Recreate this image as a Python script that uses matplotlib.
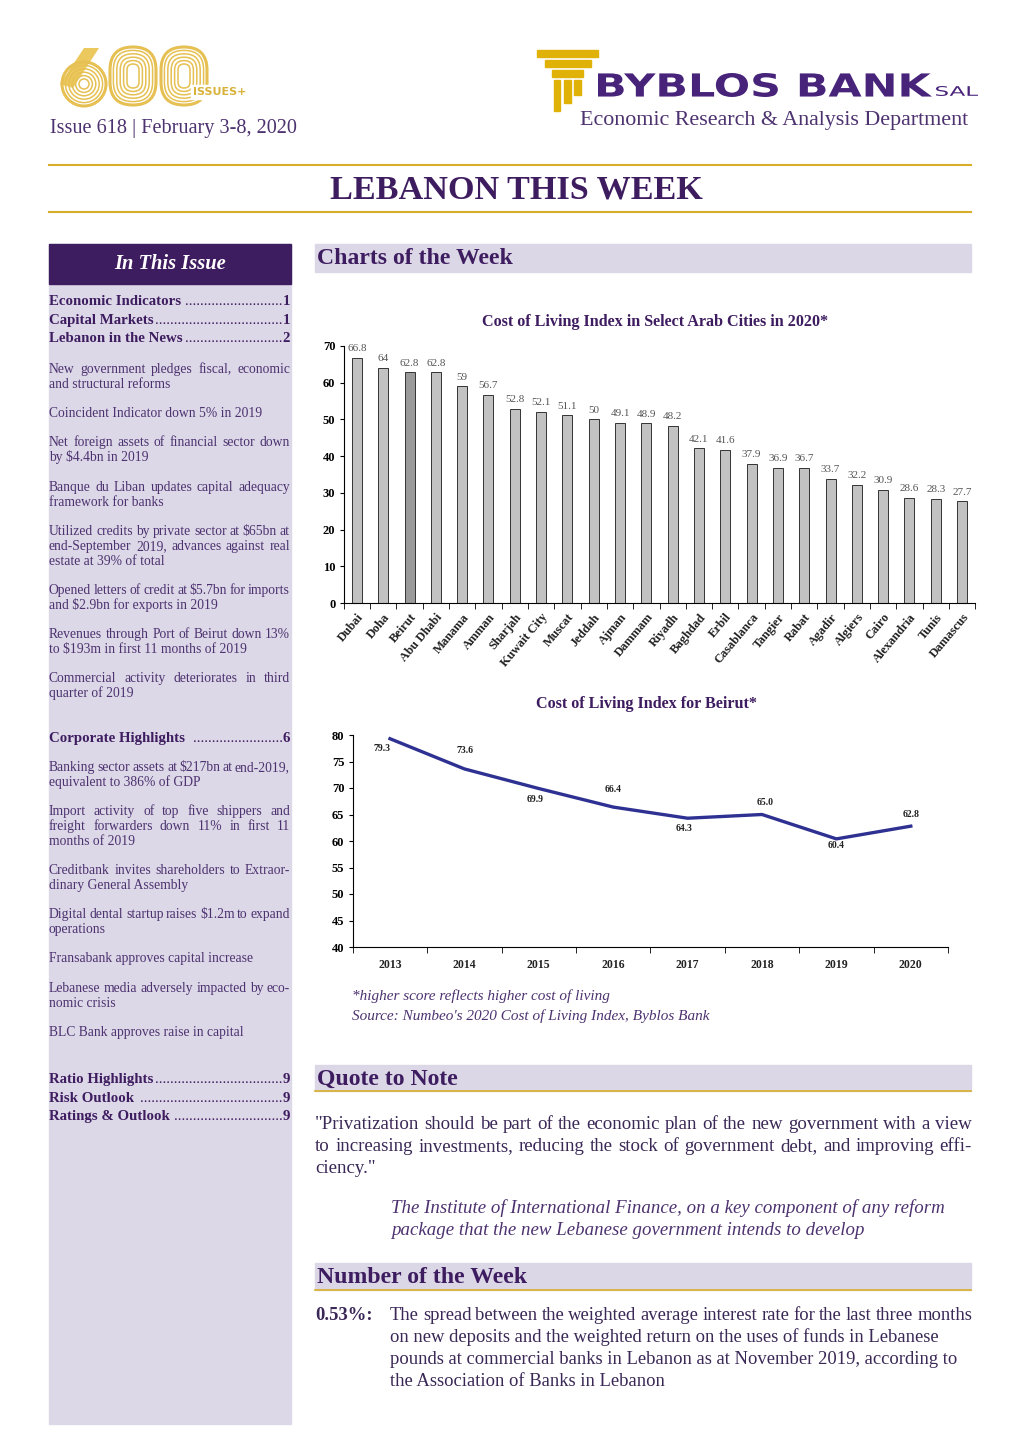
import matplotlib
matplotlib.use('Agg')
import matplotlib.pyplot as plt
from matplotlib.patches import Rectangle, PathPatch, FancyBboxPatch, Circle, Polygon
from matplotlib.textpath import TextPath
from matplotlib.font_manager import FontProperties
from matplotlib.transforms import Affine2D
import numpy as np

plt.rcParams['font.family'] = ['Liberation Serif', 'DejaVu Serif']

# ---------------- data ----------------
cities = ['Dubai', 'Doha', 'Beirut', 'Abu Dhabi', 'Manama', 'Amman', 'Sharjah',
          'Kuwait City', 'Muscat', 'Jeddah', 'Ajman', 'Dammam', 'Riyadh', 'Baghdad',
          'Erbil', 'Casablanca', 'Tangier', 'Rabat', 'Agadir', 'Algiers', 'Cairo',
          'Alexandria', 'Tunis', 'Damascus']
city_values = [66.8, 64, 62.8, 62.8, 59, 56.7, 52.8, 52.1, 51.1, 50, 49.1, 48.9,
               48.2, 42.1, 41.6, 37.9, 36.9, 36.7, 33.7, 32.2, 30.9, 28.6, 28.3, 27.7]
years = ['2013', '2014', '2015', '2016', '2017', '2018', '2019', '2020']
beirut_index = [79.3, 73.6, 69.9, 66.4, 64.3, 65.0, 60.4, 62.8]
beirut_labels = ['79.3', '73.6', '69.9', '66.4', '64.3', '65.0', '60.4', '62.8']

W, H = 1020, 1442
PURPLE = '#3e1c60'
TXT = '#4d3270'
GOLD = '#d8ad2a'
LAV = '#dcd8e7'
SECBG = '#dbd7e6'
RING = '#e6c052'

fig = plt.figure(figsize=(W / 100, H / 100), dpi=100)
bg = fig.add_axes([0, 0, 1, 1])
bg.set_xlim(0, W)
bg.set_ylim(H, 0)
bg.axis('off')
renderer = fig.canvas.get_renderer()


def fp(size, weight='normal', style='normal', family='Liberation Serif'):
    return FontProperties(family=family, size=size, weight=weight, style=style)


def tw(s, prop):
    w, h, d = renderer.get_text_width_height_descent(s, prop, ismath=False)
    return w


def line(x0, x1, y, s, prop, color, justify=False):
    yb = y + 0.33 * prop.get_size_in_points() * 100 / 72
    if not justify:
        bg.text(x0, yb, s, fontproperties=prop, color=color, va='baseline', ha='left')
        return
    words = s.split(' ')
    widths = [tw(w, prop) for w in words]
    gap = (x1 - x0 - sum(widths)) / max(len(words) - 1, 1)
    x = x0
    for w, wd in zip(words, widths):
        bg.text(x, yb, w, fontproperties=prop, color=color, va='baseline', ha='left')
        x += wd + gap


def fit_text(s, x0, y0, x1, y1, prop, color):
    tp = TextPath((0, 0), s, size=100, prop=prop)
    bb = tp.get_extents()
    tr = (Affine2D().translate(-bb.x0, -bb.y0)
          .scale((x1 - x0) / bb.width, -(y1 - y0) / bb.height)
          .translate(x0, y1))
    path = tr.transform_path(tp)
    bg.add_patch(PathPatch(path, facecolor=color, edgecolor='none', zorder=3))


# ---------------- header: 600 logo ----------------
bg.add_patch(Polygon([(60, 84), (84, 48), (99, 48), (73, 88)], closed=True,
                     facecolor='#ecc95e', edgecolor='none', zorder=2))
for k in range(6):
    r = 22 - k * 3.4
    bg.add_patch(Circle((84, 84), r, facecolor='white' if k == 5 else 'none',
                        edgecolor=RING, lw=2.2 if k == 0 else 1.1, zorder=3))
for cx in (133, 184):
    for k in range(6):
        inset = k * 3.4
        w = 46 - 2 * inset
        h = 58 - 2 * inset
        bg.add_patch(FancyBboxPatch((cx - w / 2, 76 - h / 2), w, h,
                                    boxstyle=f'round,pad=0,rounding_size={w / 2 - 0.1}',
                                    facecolor='none', edgecolor=RING,
                                    lw=2.2 if k == 0 else 1.1, zorder=3))
bg.add_patch(Rectangle((191, 85), 70, 14, color='white', zorder=4))
bg.text(193, 92, 'ISSUES+', fontproperties=fp(8, 'bold', family='DejaVu Sans'),
        color='#d9b23a', va='center', ha='left', zorder=5)
bg.text(50, 128, 'Issue 618 | February 3-8, 2020', fontproperties=fp(14.6),
        color=TXT, va='center', ha='left')

# ---------------- header: Byblos logo ----------------
LOGO_GOLD = '#e0b208'
bg.add_patch(Rectangle((537, 50), 61, 7, color=LOGO_GOLD))
bg.add_patch(Rectangle((545, 60), 46, 7, color=LOGO_GOLD))
bg.add_patch(Rectangle((552, 70), 31, 7, color=LOGO_GOLD))
bg.add_patch(Rectangle((554, 80), 6, 31, color=LOGO_GOLD))
bg.add_patch(Rectangle((564, 80), 7, 23, color=LOGO_GOLD))
bg.add_patch(Rectangle((574, 80), 7, 15, color=LOGO_GOLD))
fit_text('BYBLOS BANK', 598, 73, 932, 97, fp(10, 'bold', family='DejaVu Sans'), '#48237a')
fit_text('SAL', 936, 86, 978, 96, fp(10, family='DejaVu Sans'), '#48237a')
bg.text(580, 120, 'Economic Research & Analysis Department', fontproperties=fp(15.8),
        color=TXT, va='center', ha='left')

bg.plot([49, 971], [165, 165], color=GOLD, lw=1.5)
bg.plot([49, 971], [212, 212], color=GOLD, lw=1.5)
bg.text(516, 190, 'LEBANON THIS WEEK', fontproperties=fp(24.6, 'bold'), color=PURPLE,
        va='center', ha='center')

# ---------------- sidebar ----------------
bg.add_patch(Rectangle((49, 244), 242, 1180, color=LAV, zorder=0))
bg.add_patch(Rectangle((49, 244), 242, 40, color=PURPLE, zorder=1))
bg.text(170, 264, 'In This Issue', fontproperties=fp(14.8, 'bold', 'italic'), color='white',
        va='center', ha='center')

SB_X0, SB_X1 = 49, 290


def leader(y, title, page):
    pb = fp(10.7, 'bold')
    pr = fp(10.7)
    yb = y + 0.33 * 10.7 * 100 / 72
    bg.text(SB_X0, yb, title, fontproperties=pb, color=PURPLE, va='baseline', ha='left')
    bg.text(SB_X1, yb, page, fontproperties=pb, color=PURPLE, va='baseline', ha='right')
    wt = tw(title, pb)
    wn = tw(page, pb)
    wd = tw('.' * 20, pr) / 20
    n = int((SB_X1 - wn - SB_X0 - wt - 1) / wd)
    bg.text(SB_X1 - wn, yb, '.' * n, fontproperties=pr, color=PURPLE, va='baseline', ha='right')


leader(300, 'Economic Indicators', '1')
leader(319, 'Capital Markets', '1')
leader(337, 'Lebanon in the News', '2')
leader(737, 'Corporate Highlights ', '6')
leader(1078, 'Ratio Highlights', '9')
leader(1097, 'Risk Outlook ', '9')
leader(1115, 'Ratings & Outlook', '9')

side_paras = [
    (369, ['New government pledges fiscal, economic', 'and structural reforms']),
    (413, ['Coincident Indicator down 5% in 2019']),
    (442, ['Net foreign assets of financial sector down', 'by $4.4bn in 2019']),
    (487, ['Banque du Liban updates capital adequacy', 'framework for banks']),
    (531, ['Utilized credits by private sector at $65bn at',
           'end-September 2019, advances against real', 'estate at 39% of total']),
    (590, ['Opened letters of credit at $5.7bn for imports', 'and $2.9bn for exports in 2019']),
    (634, ['Revenues through Port of Beirut down 13%', 'to $193m in first 11 months of 2019']),
    (678, ['Commercial activity deteriorates in third', 'quarter of 2019']),
    (767, ['Banking sector assets at $217bn at end-2019,', 'equivalent to 386% of GDP']),
    (811, ['Import activity of top five shippers and',
           'freight forwarders down 11% in first 11', 'months of 2019']),
    (870, ['Creditbank invites shareholders to Extraor-', 'dinary General Assembly']),
    (914, ['Digital dental startup raises $1.2m to expand', 'operations']),
    (958, ['Fransabank approves capital increase']),
    (988, ['Lebanese media adversely impacted by eco-', 'nomic crisis']),
    (1032, ['BLC Bank approves raise in capital']),
]
sp = fp(9.8)
for y0, lines in side_paras:
    for k, s in enumerate(lines):
        line(SB_X0, SB_X1, y0 + k * 14.6, s, sp, TXT, justify=(k < len(lines) - 1))

# ---------------- section headers ----------------


def section(y0, y1, title, underline=True):
    bg.add_patch(Rectangle((315, y0), 656, y1 - y0, color=SECBG, zorder=0))
    if underline:
        bg.plot([315, 971], [y1, y1], color=GOLD, lw=1.2)
    bg.text(317, (y0 + y1) / 2 + 1, title, fontproperties=fp(17.1, 'bold'), color=PURPLE,
            va='center', ha='left')


section(244, 272, 'Charts of the Week', underline=False)
section(1065, 1091, 'Quote to Note')
section(1263, 1290, 'Number of the Week')

# ---------------- bar chart ----------------
bg.text(655, 322, 'Cost of Living Index in Select Arab Cities in 2020*',
        fontproperties=fp(11.6, 'bold'), color=PURPLE, va='center', ha='center')
ax1 = fig.add_axes([343.8 / W, 1 - 603 / H, (975.2 - 343.8) / W, (603 - 346) / H])
ax1.set_facecolor('none')
xpos = np.arange(len(cities))
bar_colors = ['#9a9a9a' if c == 'Beirut' else '#c2c2c2' for c in cities]
ax1.bar(xpos, city_values, width=0.38, color=bar_colors, edgecolor='#333333', linewidth=0.7)
for x, v in zip(xpos, city_values):
    ax1.text(x, v + 1.3, f'{v:g}', ha='center', va='bottom', fontsize=8, color='#555555')
ax1.set_xlim(-0.5, len(cities) - 0.5)
ax1.set_ylim(0, 70)
ax1.set_yticks(np.arange(0, 71, 10))
ax1.set_xticks(xpos)
ax1.set_xticklabels(cities, rotation=50, ha='right', va='top', rotation_mode='anchor',
                    fontsize=9, fontweight='bold', color='#222222')
ax1.set_xticks(np.arange(-0.5, len(cities), 1), minor=True)
ax1.tick_params(axis='x', which='major', length=0, pad=6)
ax1.tick_params(axis='x', which='minor', length=4, direction='out')
ax1.tick_params(axis='y', length=3, direction='out', labelsize=9, pad=3)
for t in ax1.get_yticklabels():
    t.set_fontweight('bold')
ax1.spines['top'].set_visible(False)
ax1.spines['right'].set_visible(False)

# ---------------- line chart ----------------
bg.text(647, 704, 'Cost of Living Index for Beirut*', fontproperties=fp(11.6, 'bold'),
        color=PURPLE, va='center', ha='center')
ax2 = fig.add_axes([352.8 / W, 1 - 947 / H, (948 - 352.8) / W, (947 - 735) / H])
ax2.set_facecolor('none')
ypos = np.arange(len(years))
ax2.plot(ypos, beirut_index, color='#2e3192', lw=2.4, solid_joinstyle='round')
label_off = [(-8, -10), (1, 18), (-4, -11), (0, 18), (-4, -10), (3, 12), (0, -7), (0, 12)]
for x, v, s, (dx, dy) in zip(ypos, beirut_index, beirut_labels, label_off):
    ax2.annotate(s, (x, v), xytext=(dx, dy), textcoords='offset pixels', ha='center',
                 va='center', fontsize=7, fontweight='bold', color='#222222')
ax2.set_xlim(-0.5, len(years) - 0.5)
ax2.set_ylim(40, 80)
ax2.set_yticks(np.arange(40, 81, 5))
ax2.set_xticks(ypos)
ax2.set_xticklabels(years, fontsize=8.5, fontweight='bold', color='#222222')
ax2.set_xticks(np.arange(-0.5, len(years), 1), minor=True)
ax2.tick_params(axis='x', which='major', length=0, pad=9)
ax2.tick_params(axis='x', which='minor', length=4, direction='out')
ax2.tick_params(axis='y', length=3, direction='out', labelsize=9, pad=3)
for t in ax2.get_yticklabels():
    t.set_fontweight('bold')
ax2.spines['top'].set_visible(False)
ax2.spines['right'].set_visible(False)

bg.text(352, 996, '*higher score reflects higher cost of living', fontproperties=fp(11, style='italic'),
        color=TXT, va='center', ha='left')
bg.text(352, 1016, "Source: Numbeo's 2020 Cost of Living Index, Byblos Bank",
        fontproperties=fp(11, style='italic'), color=TXT, va='center', ha='left')

# ---------------- quote ----------------
QCOL = '#3a2856'
qp = fp(13.6)
q_lines = ['"Privatization should be part of the economic plan of the new government with a view',
           'to increasing investments, reducing the stock of government debt, and improving effi-',
           'ciency."']
for k, s in enumerate(q_lines):
    line(315, 972, 1123 + k * 22, s, qp, QCOL, justify=(k < 2))
a_lines = ['The Institute of International Finance, on a key component of any reform',
           'package that the new Lebanese government intends to develop']
for k, s in enumerate(a_lines):
    line(391, 942, 1207 + k * 22, s, fp(13.6, style='italic'), TXT)

# ---------------- number of the week ----------------
bg.text(315, 1314 + 0.33 * 13.4 * 100 / 72, '0.53%:', fontproperties=fp(13.4, 'bold'),
        color=QCOL, va='baseline', ha='left')
n_lines = ['The spread between the weighted average interest rate for the last three months',
           'on new deposits and the weighted return on the uses of funds in Lebanese',
           'pounds at commercial banks in Lebanon as at November 2019, according to',
           'the Association of Banks in Lebanon']
for k, s in enumerate(n_lines):
    line(390, 972, 1314 + k * 22, s, fp(13.4), QCOL, justify=(k == 0))

fig.savefig('out.png', dpi=100, facecolor='white')
